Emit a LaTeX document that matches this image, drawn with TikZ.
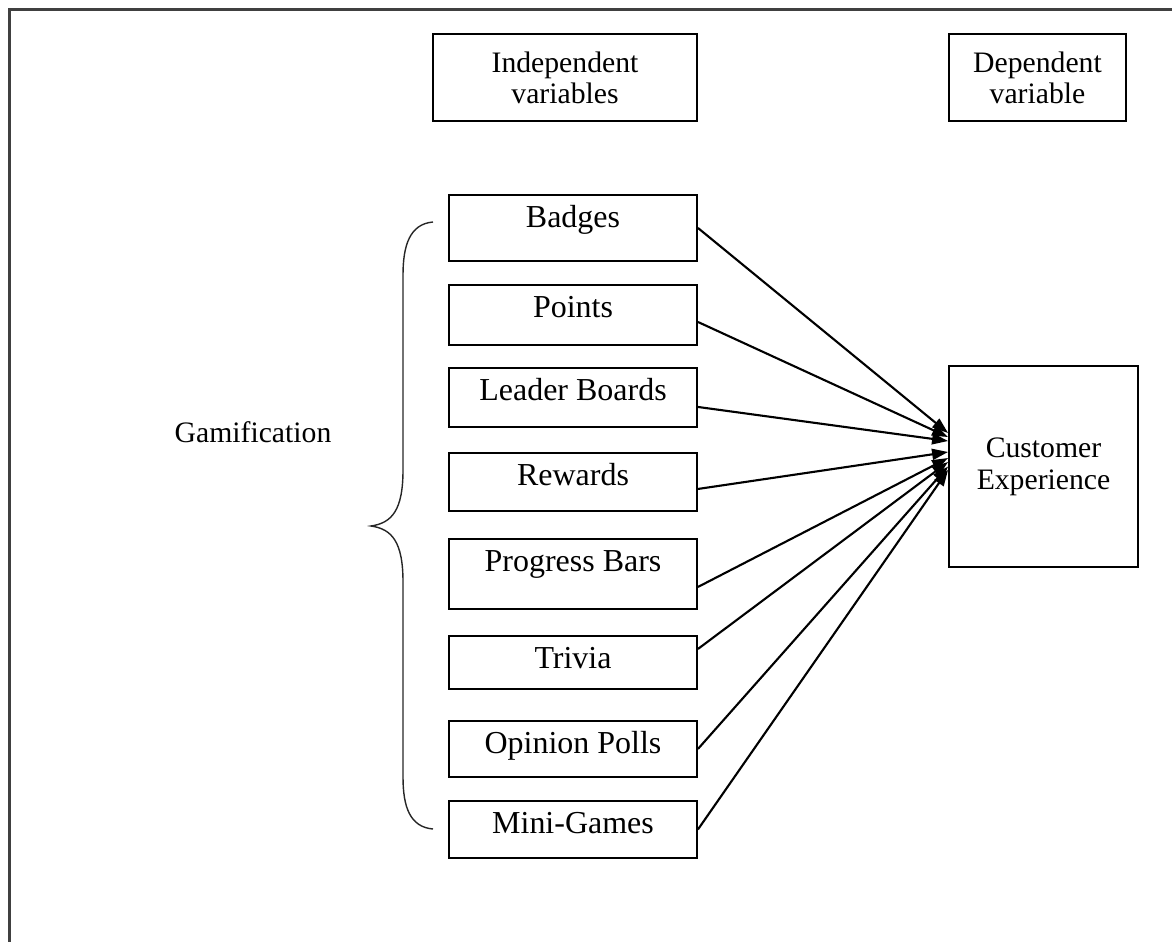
\documentclass[tikz,border=0pt]{standalone}
\usepackage{fontspec}
\setmainfont{Liberation Serif}
\usetikzlibrary{arrows.meta}

\tikzset{
  varbox/.style={draw, line width=1.1pt, minimum width=4.96cm, inner sep=0pt,
    text height=0.66cm, anchor=north, font=\fontsize{18.2}{20}\selectfont},
  headbox/.style={draw, line width=1.1pt, inner sep=0pt, align=center,
    font=\fontsize{16.9}{17.6}\selectfont},
  flecha/.style={line width=1.2pt, -{Triangle[length=0.32cm,width=0.22cm]}}
}

\begin{document}
\begin{tikzpicture}[x=0.02cm, y=-0.02cm]
        \useasboundingbox (0,0) rectangle (1172,942);
        % Marco
        \draw[line width=1.7pt, black!75] (9.5,942) -- (9.5,9.5) -- (1172,9.5);
        % Cabeceras
        \node[headbox, minimum width=5.28cm, minimum height=1.74cm] (indep) at (565,77.5) {Independent\\variables};
        \node[headbox, minimum width=3.54cm, minimum height=1.74cm] (dep) at (1037.5,77.5) {Dependent\\variable};
        % Variables independientes
        \node[varbox, text depth=0.66cm] (badges) at (573,194) {Badges};
        \node[varbox, text depth=0.54cm] (points) at (573,284) {Points};
        \node[varbox, text depth=0.52cm] (leader) at (573,367) {Leader Boards};
        \node[varbox, text depth=0.50cm] (rewards) at (573,452) {Rewards};
        \node[varbox, text depth=0.74cm] (progress) at (573,538) {Progress Bars};
        \node[varbox, text depth=0.40cm] (trivia) at (573,635) {Trivia};
        \node[varbox, text depth=0.46cm] (polls) at (573,720) {Opinion Polls};
        \node[varbox, text depth=0.48cm] (minigames) at (573,800) {Mini-Games};
        % Variable dependiente
        \node[headbox, minimum width=3.78cm, minimum height=4.02cm,
              font=\fontsize{16.9}{18.2}\selectfont] (cx) at (1043.5,466.5) {Customer\\Experience};
        % Llave y etiqueta
        \draw[line width=0.8pt, black!85] (433,222) .. controls (410,224) and (403,245) .. (403,275)
            -- (403,470) .. controls (403,510) and (392,523) .. (371,526)
            .. controls (392,529) and (403,542) .. (403,582)
            -- (403,777) .. controls (403,807) and (410,827) .. (433,829);
        \node[font=\fontsize{16.9}{17.6}\selectfont] (gam) at (253,432) {Gamification};
        % Flechas
        \draw[flecha] (badges.east) -- ([yshift=0.67cm]cx.west);
        \draw[flecha] ([yshift=-0.14cm]points.east) -- ([yshift=0.59cm]cx.west);
        \draw[flecha] ([yshift=-0.19cm]leader.east) -- ([yshift=0.51cm]cx.west);
        \draw[flecha] ([yshift=-0.14cm]rewards.east) -- ([yshift=0.29cm]cx.west);
        \draw[flecha] ([yshift=-0.26cm]progress.east) -- ([yshift=0.17cm]cx.west);
        \draw[flecha] ([yshift=0.27cm]trivia.east) -- ([yshift=0.09cm]cx.west);
        \draw[flecha] (polls.east) -- (cx.west);
        \draw[flecha] (minigames.east) -- ([yshift=-0.07cm]cx.west);
\end{tikzpicture}
\end{document}
